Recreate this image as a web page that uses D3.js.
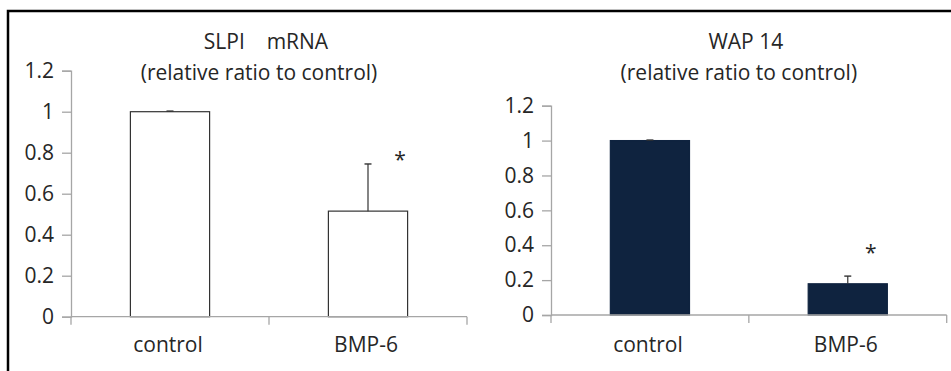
<!DOCTYPE html>
<html>
<head>
<meta charset="utf-8">
<script src="https://cdn.jsdelivr.net/npm/d3@7"></script>
<style>
  body { margin: 0; background: #fff; }
  text { font-family: "Open Sans", "Noto Sans", sans-serif; fill: #262626; }
</style>
</head>
<body>
<div id="chart"></div>
<script>
// data
var categories = ["control", "BMP-6"];
var yTicks = [0, 0.2, 0.4, 0.6, 0.8, 1, 1.2];

var slpiTitle = ["SLPI    mRNA", "(relative ratio to control)"];
var slpiValues = [1, 0.515];
var slpiErrors = [0.003, 0.23];
var slpiStar = 0.79;    // asterisk height over BMP-6, in axis units

var wapTitle = ["WAP 14", "(relative ratio to control)"];
var wapValues = [1, 0.179];
var wapErrors = [0.003, 0.044];
var wapStar = 0.383;

var fontSize = "21px";

var svg = d3.select("#chart")
  .append("svg")
    .attr("width", 951)
    .attr("height", 371);

// frame (left and top edges only)
svg.append("path")
  .attr("d", "M8,371V11H951")
  .attr("fill", "none")
  .attr("stroke", "#000")
  .attr("stroke-width", 2.5);

function panel(opt) {
  var x = d3.scaleBand()
    .domain(categories)
    .range([opt.left, opt.right])
    .paddingInner(0.6)
    .paddingOuter(0.3);

  var y = d3.scaleLinear()
    .domain([0, 1.2])
    .range([opt.bottom, opt.top]);

  var g = svg.append("g");
  var mid = (opt.left + opt.right) / 2;

  // titles
  g.append("text")
    .attr("x", mid - 3).attr("y", 49)
    .attr("text-anchor", "middle")
    .style("font-size", fontSize)
    .style("white-space", "pre")
    .text(opt.title[0]);
  g.append("text")
    .attr("x", mid - 10).attr("y", 80)
    .attr("text-anchor", "middle")
    .style("font-size", fontSize)
    .text(opt.title[1]);

  // y axis
  var yAxis = g.append("g")
    .attr("transform", "translate(" + opt.left + ",0)")
    .call(d3.axisLeft(y).tickValues(yTicks).tickSize(9).tickPadding(8)
      .tickFormat(function(d) { return d3.format("")(+d.toFixed(1)); }));
  yAxis.select(".domain").attr("stroke", "#a6a6a6").attr("stroke-width", 1.3);
  yAxis.selectAll(".tick line").attr("stroke", "#a6a6a6").attr("stroke-width", 1.3);
  yAxis.selectAll(".tick text")
    .attr("fill", "#262626")
    .style("font-family", "'Open Sans', sans-serif")
    .style("font-size", fontSize);

  // bars
  g.selectAll("rect.bar")
    .data(opt.values)
    .enter()
    .append("rect")
      .attr("class", "bar")
      .attr("x", function(d, i) { return x(categories[i]); })
      .attr("y", function(d) { return y(d); })
      .attr("width", x.bandwidth())
      .attr("height", function(d) { return y(0) - y(d); })
      .attr("fill", opt.fill)
      .attr("stroke", opt.stroke)
      .attr("stroke-width", 1.2);

  // error bars (upper only)
  var cap = 3.5;
  opt.values.forEach(function(v, i) {
    var cx = x(categories[i]) + x.bandwidth() / 2;
    var top = y(v + opt.errors[i]);
    g.append("line")
      .attr("x1", cx).attr("x2", cx)
      .attr("y1", y(v)).attr("y2", top)
      .attr("stroke", "#333").attr("stroke-width", 1.2);
    g.append("line")
      .attr("x1", cx - cap).attr("x2", cx + cap)
      .attr("y1", top).attr("y2", top)
      .attr("stroke", "#333").attr("stroke-width", 1.4);
  });

  // x axis
  g.append("line")
    .attr("x1", opt.left).attr("x2", opt.right)
    .attr("y1", y(0)).attr("y2", y(0))
    .attr("stroke", "#a6a6a6").attr("stroke-width", 1.3);
  d3.range(categories.length + 1).forEach(function(i) {
    var tx = opt.left + i * (opt.right - opt.left) / categories.length;
    g.append("line")
      .attr("x1", tx).attr("x2", tx)
      .attr("y1", y(0)).attr("y2", y(0) + 8)
      .attr("stroke", "#a6a6a6").attr("stroke-width", 1.3);
  });
  g.selectAll("text.cat")
    .data(categories)
    .enter()
    .append("text")
      .attr("class", "cat")
      .attr("x", function(d) { return x(d) + x.bandwidth() / 2 - 2; })
      .attr("y", 352)
      .attr("text-anchor", "middle")
      .style("font-size", fontSize)
      .text(function(d) { return d; });

  // significance mark
  g.append("text")
    .attr("x", x(categories[1]) + x.bandwidth() / 2 + opt.starDx)
    .attr("y", y(opt.star) + 12)
    .attr("text-anchor", "middle")
    .style("font-size", "21px")
    .text("*");
}

panel({
  left: 71, right: 467, top: 70.7, bottom: 316.7,
  title: slpiTitle, values: slpiValues, errors: slpiErrors, star: slpiStar,
  fill: "#fff", stroke: "#333", starDx: 32
});

panel({
  left: 551, right: 946.7, top: 105.7, bottom: 315,
  title: wapTitle, values: wapValues, errors: wapErrors, star: wapStar,
  fill: "#0f233f", stroke: "#0f233f", starDx: 23
});
</script>
</body>
</html>
